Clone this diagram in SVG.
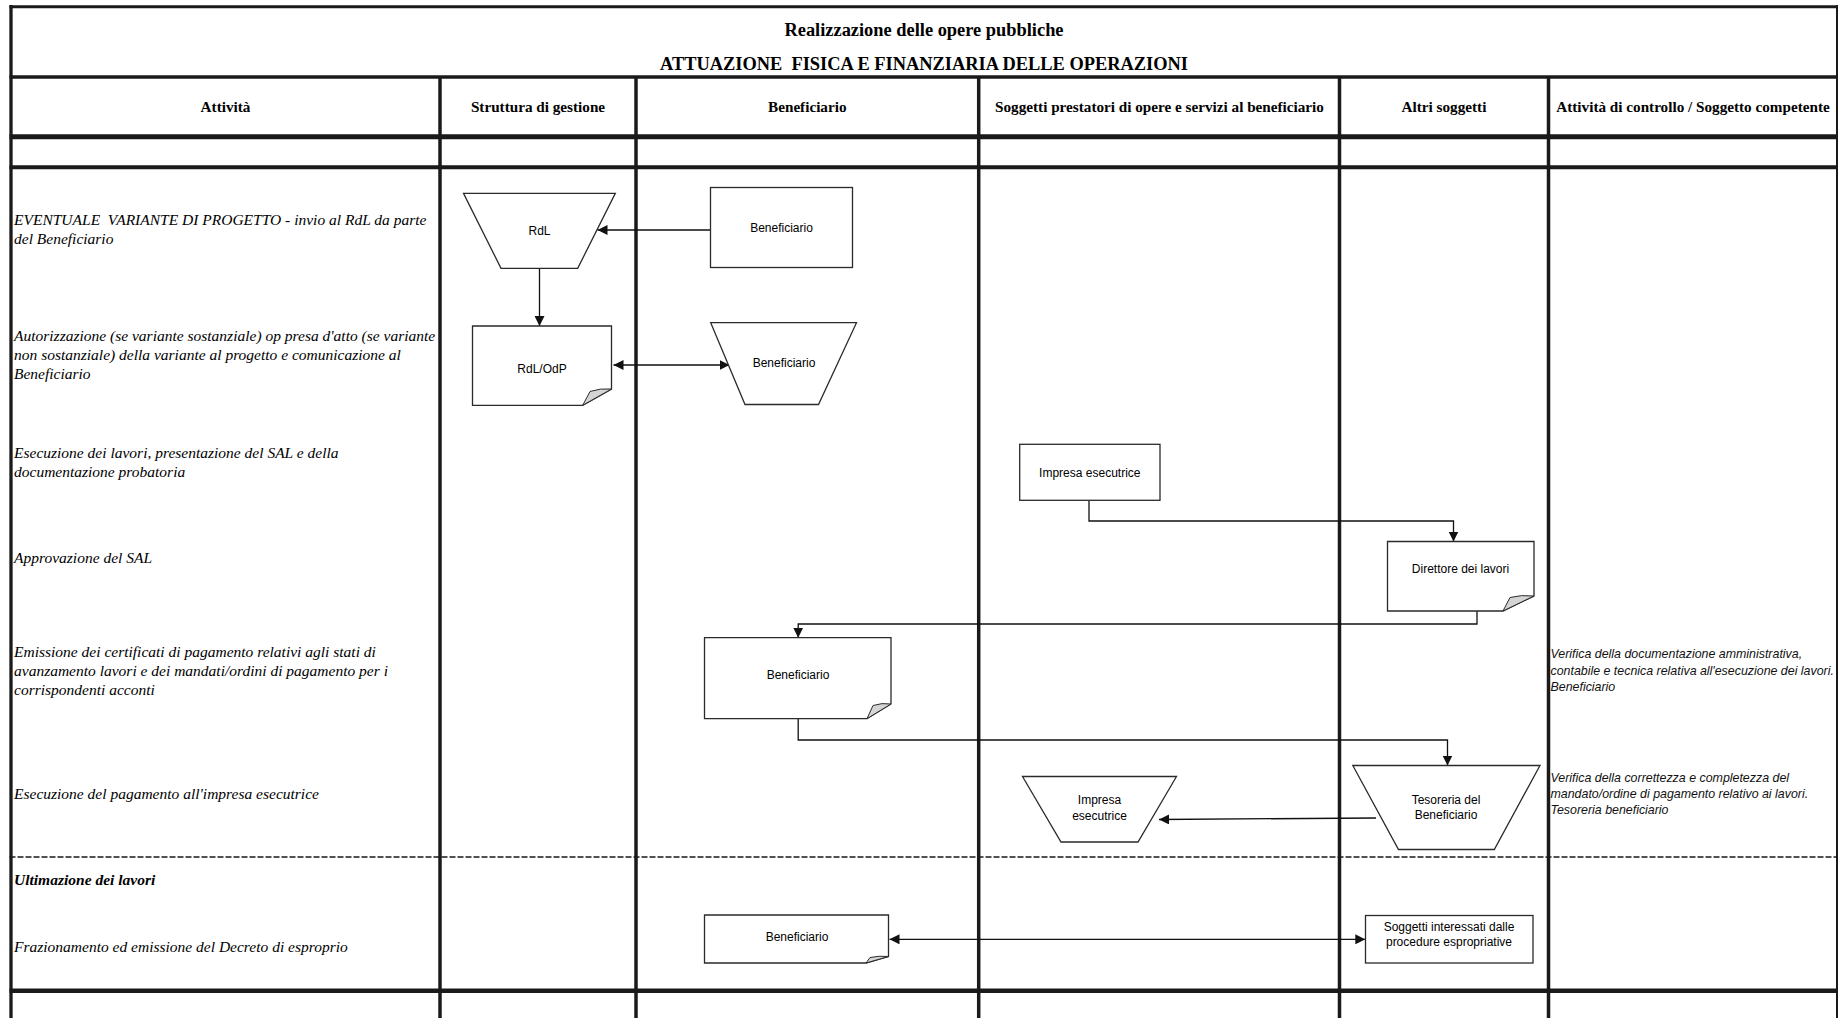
<svg xmlns="http://www.w3.org/2000/svg" width="1838" height="1018" viewBox="0 0 1838 1018">
<style>
.grid{stroke:#1a1a1a;fill:none}
.t1{font-family:"Liberation Serif",serif;font-weight:bold;font-size:18.4px;fill:#000;text-anchor:middle;white-space:pre}
.hd{font-family:"Liberation Serif",serif;font-weight:bold;font-size:15.2px;fill:#000;text-anchor:middle}
.act{font-family:"Liberation Serif",serif;font-style:italic;font-size:15.5px;fill:#000;white-space:pre}
.actb{font-family:"Liberation Serif",serif;font-style:italic;font-weight:bold;font-size:15.5px;fill:#000}
.ctl{font-family:"Liberation Sans",sans-serif;font-style:italic;font-size:12.4px;fill:#111}
.shape{fill:#fff;stroke:#2a2a2a;stroke-width:1.3}
.fold{fill:#d4d4d4;stroke:#2a2a2a;stroke-width:1}
.lbl{font-family:"Liberation Sans",sans-serif;font-size:12px;fill:#000;text-anchor:middle}
.conn{fill:none;stroke:#111;stroke-width:1.3}
</style>
<defs>
<marker id="ah" viewBox="0 0 10 10" refX="10" refY="5" markerWidth="10" markerHeight="10" markerUnits="userSpaceOnUse" orient="auto-start-reverse">
<path d="M0,0 L10,5 L0,10 z" fill="#111"/>
</marker>
</defs>

<g id="table">
<line class="grid" x1="9.5" y1="6.7" x2="1838" y2="6.7" stroke-width="3"/>
<line class="grid" x1="11" y1="5" x2="11" y2="1018" stroke-width="3.3"/>
<line class="grid" x1="1837" y1="5" x2="1837" y2="1018" stroke-width="2"/>
<line class="grid" x1="9.5" y1="77" x2="1838" y2="77" stroke-width="3.3"/>
<line class="grid" x1="9.5" y1="136.7" x2="1838" y2="136.7" stroke-width="5"/>
<line class="grid" x1="9.5" y1="167.3" x2="1838" y2="167.3" stroke-width="4"/>
<line class="grid" x1="9.5" y1="857" x2="1838" y2="857" stroke-width="1.6" stroke-dasharray="6 2"/>
<line class="grid" x1="9.5" y1="990.7" x2="1838" y2="990.7" stroke-width="4.5"/>
<line class="grid" x1="440" y1="77" x2="440" y2="1018" stroke-width="3.5"/>
<line class="grid" x1="636" y1="77" x2="636" y2="1018" stroke-width="3.5"/>
<line class="grid" x1="978.7" y1="77" x2="978.7" y2="1018" stroke-width="3.5"/>
<line class="grid" x1="1339.5" y1="77" x2="1339.5" y2="1018" stroke-width="3.5"/>
<line class="grid" x1="1548.5" y1="77" x2="1548.5" y2="1018" stroke-width="3.5"/>
</g>

<g id="title">
<text class="t1" x="924" y="35.5">Realizzazione delle opere pubbliche</text>
<text class="t1" x="924" y="69.5">ATTUAZIONE  FISICA E FINANZIARIA DELLE OPERAZIONI</text>
</g>

<g id="headers">
<text class="hd" x="225.5" y="112">Attività</text>
<text class="hd" x="538" y="112">Struttura di gestione</text>
<text class="hd" x="807.3" y="112">Beneficiario</text>
<text class="hd" x="1159.5" y="112">Soggetti prestatori di opere e servizi al beneficiario</text>
<text class="hd" x="1444" y="112">Altri soggetti</text>
<text class="hd" x="1693" y="112">Attività di controllo / Soggetto competente</text>
</g>

<g id="activities">
<text class="act" x="14" y="224.5">EVENTUALE  VARIANTE DI PROGETTO - invio al RdL da parte</text>
<text class="act" x="14" y="243.5">del Beneficiario</text>
<text class="act" x="14" y="340.5">Autorizzazione (se variante sostanziale) op presa d'atto (se variante</text>
<text class="act" x="14" y="359.5">non sostanziale) della variante al progetto e comunicazione al</text>
<text class="act" x="14" y="378.5">Beneficiario</text>
<text class="act" x="14" y="457.5">Esecuzione dei lavori, presentazione del SAL e della</text>
<text class="act" x="14" y="476.5">documentazione probatoria</text>
<text class="act" x="14" y="563">Approvazione del SAL</text>
<text class="act" x="14" y="656.5">Emissione dei certificati di pagamento relativi agli stati di</text>
<text class="act" x="14" y="675.5">avanzamento lavori e dei mandati/ordini di pagamento per i</text>
<text class="act" x="14" y="694.5">corrispondenti acconti</text>
<text class="act" x="14" y="799">Esecuzione del pagamento all'impresa esecutrice</text>
<text class="actb" x="14" y="884.5">Ultimazione dei lavori</text>
<text class="act" x="14" y="951.5">Frazionamento ed emissione del Decreto di esproprio</text>
</g>

<g id="controls">
<text class="ctl" x="1550.5" y="658">Verifica della documentazione amministrativa,</text>
<text class="ctl" x="1550.5" y="675">contabile e tecnica relativa all'esecuzione dei lavori.</text>
<text class="ctl" x="1550.5" y="691">Beneficiario</text>
<text class="ctl" x="1550.5" y="782">Verifica della correttezza e completezza del</text>
<text class="ctl" x="1550.5" y="798">mandato/ordine di pagamento relativo ai lavori.</text>
<text class="ctl" x="1550.5" y="814">Tesoreria beneficiario</text>
</g>

<g id="connectors">
<line class="conn" x1="710.5" y1="230" x2="597.5" y2="230" marker-end="url(#ah)"/>
<line class="conn" x1="539.5" y1="268.3" x2="539.5" y2="326" marker-end="url(#ah)"/>
<line class="conn" x1="613.5" y1="365" x2="729.5" y2="365" marker-start="url(#ah)" marker-end="url(#ah)"/>
<path class="conn" d="M1089,501 V521 H1453.5 V541.5" marker-end="url(#ah)"/>
<path class="conn" d="M1477,611 V624 H798.2 V637.7" marker-end="url(#ah)"/>
<path class="conn" d="M798.2,719 V740 H1447.5 V765.5" marker-end="url(#ah)"/>
<line class="conn" x1="1376" y1="818" x2="1159" y2="819.5" marker-end="url(#ah)"/>
<line class="conn" x1="889.5" y1="939.3" x2="1365.3" y2="939.3" marker-start="url(#ah)" marker-end="url(#ah)"/>
</g>

<g id="node-rdl">
<polygon class="shape" points="463.5,193.3 615.3,193.3 577.7,268.3 501,268.3"/>
<text class="lbl" x="539.5" y="235">RdL</text>
</g>

<g id="node-beneficiario-1">
<rect class="shape" x="710.5" y="187.5" width="142" height="80"/>
<text class="lbl" x="781.5" y="231.5">Beneficiario</text>
</g>

<g id="node-rdl-odp">
<path class="shape" d="M472.5,326 H611.5 V389 L582.7,405.3 H472.5 Z"/>
<path class="fold" d="M611.5,389 L582.7,405.3 L590,391.5 Q600,388 611.5,389 Z"/>
<text class="lbl" x="542" y="373">RdL/OdP</text>
</g>

<g id="node-beneficiario-2">
<polygon class="shape" points="710.7,322.7 856.5,322.7 818.5,404.5 745,404.5"/>
<text class="lbl" x="784" y="367">Beneficiario</text>
</g>

<g id="node-impresa-1">
<rect class="shape" x="1019.7" y="444.3" width="140.3" height="56"/>
<text class="lbl" x="1089.8" y="476.5">Impresa esecutrice</text>
</g>

<g id="node-direttore">
<path class="shape" d="M1387.5,541.5 H1534 V596 L1503,611 H1387.5 Z"/>
<path class="fold" d="M1534,596 L1503,611 L1510,597.5 Q1521,594.5 1534,596 Z"/>
<text class="lbl" x="1460.5" y="573">Direttore dei lavori</text>
</g>

<g id="node-beneficiario-3">
<path class="shape" d="M704.5,637.7 H891 V704 L867,718.7 H704.5 Z"/>
<path class="fold" d="M891,704 L867,718.7 L873,705.5 Q882,702.5 891,704 Z"/>
<text class="lbl" x="798" y="678.5">Beneficiario</text>
</g>

<g id="node-tesoreria">
<polygon class="shape" points="1352.8,765.5 1540,765.5 1494.3,849.5 1398.5,849.5"/>
<text class="lbl" x="1446" y="804">Tesoreria del</text>
<text class="lbl" x="1446" y="818.5">Beneficiario</text>
</g>

<g id="node-impresa-2">
<polygon class="shape" points="1022.5,776.5 1176.5,776.5 1138,842 1061,842"/>
<text class="lbl" x="1099.5" y="804">Impresa</text>
<text class="lbl" x="1099.5" y="820">esecutrice</text>
</g>

<g id="node-beneficiario-4">
<path class="shape" d="M704.5,915 H888.5 V956.5 L866,963 H704.5 Z"/>
<path class="fold" d="M888.5,956.5 L866,963 L870,957.5 Q879,955.5 888.5,956.5 Z"/>
<text class="lbl" x="797" y="941">Beneficiario</text>
</g>

<g id="node-soggetti">
<rect class="shape" x="1365.5" y="915.5" width="167.5" height="47.5"/>
<text class="lbl" x="1449" y="930.5">Soggetti interessati dalle</text>
<text class="lbl" x="1449" y="946">procedure espropriative</text>
</g>
</svg>
